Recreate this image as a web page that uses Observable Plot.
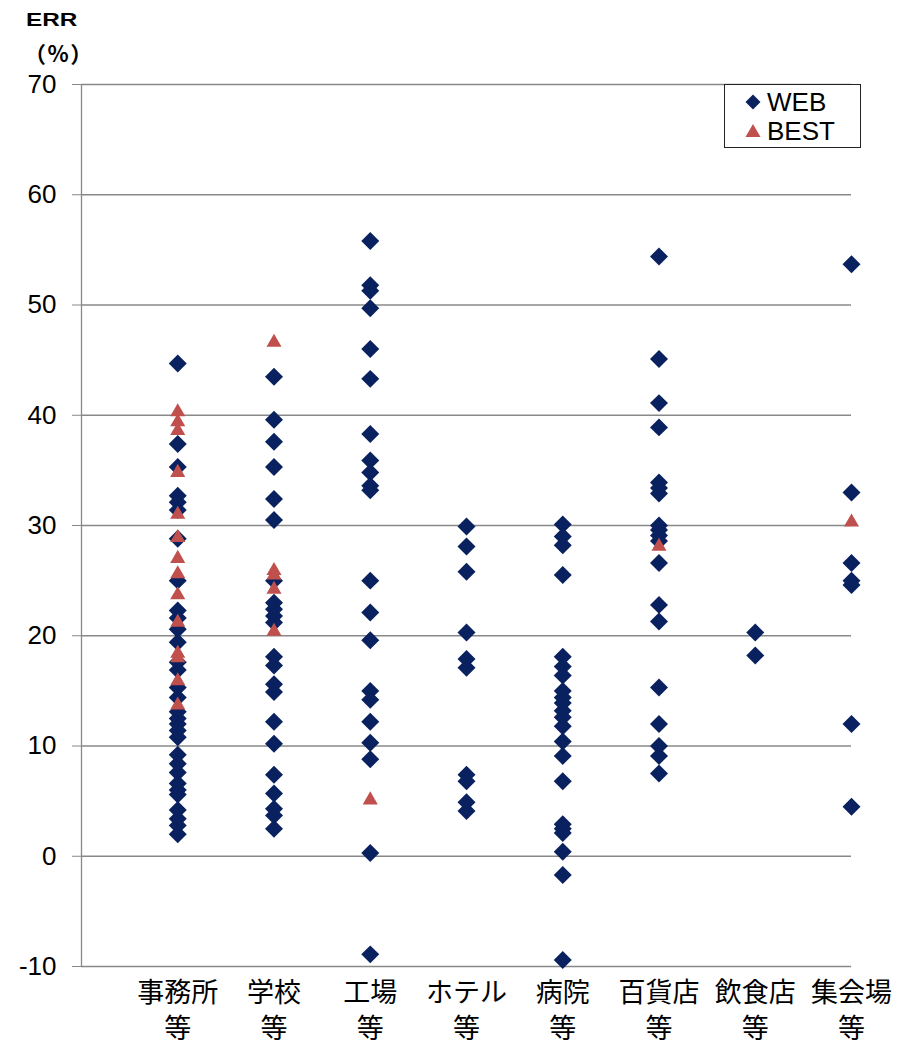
<!DOCTYPE html>
<html>
<head>
<meta charset="utf-8">
<script src="https://cdn.jsdelivr.net/npm/d3@7"></script>
<script src="https://cdn.jsdelivr.net/npm/@observablehq/plot@0.6"></script>
<style>
  body { margin: 0; background: #fff; }
  #wrap { position: relative; width: 910px; height: 1046px; font-family: "Liberation Sans", Arial, sans-serif; }
  #ylab1 { position: absolute; left: 26px; top: 10px; font: bold 18px "Liberation Sans", Arial, sans-serif; transform: scaleX(1.35); transform-origin: left top; }
  #ylab2 { position: absolute; left: 24px; top: 36px; line-height: 22px; letter-spacing: 1.5px; font: bold 22px "Noto Sans CJK JP", sans-serif; }
  #legend { position: absolute; left: 724px; top: 84px; width: 135px; height: 62px; border: 1.5px solid #222; background: #fff; }
  .li { position: absolute; left: 18px; height: 28px; display: flex; align-items: center; font: 26px "Liberation Sans", Arial, sans-serif; }
  .li svg { margin-right: 4px; }
</style>
</head>
<body>
<div id="wrap">
  <div id="chart"></div>
  <div id="ylab1">ERR</div>
  <div id="ylab2">（%）</div>
  <div id="legend">
    <div class="li" style="top:3px"><svg width="20" height="20" viewBox="-10 -10 20 20"><path d="M0,-7.5L7.5,0L0,7.5L-7.5,0Z" fill="#0A215F"/></svg>WEB</div>
    <div class="li" style="top:32px"><svg width="20" height="20" viewBox="-10 -10 20 20"><path d="M0,-7L7.5,6L-7.5,6Z" fill="#C0504D"/></svg>BEST</div>
  </div>
</div>
<script>
// Categories (x axis labels)
const categories = ["事務所\n等", "学校\n等", "工場\n等", "ホテル\n等", "病院\n等", "百貨店\n等", "飲食店\n等", "集会場\n等"];
// Y axis ticks
const yTicks = [-10, 0, 10, 20, 30, 40, 50, 60, 70];

// WEB series values per category
const webOffice = [44.7, 37.4, 35.3, 32.7, 32.1, 31.4, 28.8, 25.0, 22.3, 21.6, 20.6, 19.4, 17.6, 16.9, 15.3, 14.4, 13.1, 12.5, 12.0, 11.4, 10.8, 9.2, 8.4, 7.6, 6.6, 6.0, 5.6, 4.2, 3.4, 2.8, 2.0];
const webSchool = [43.5, 39.6, 37.6, 35.3, 32.4, 30.5, 25.0, 23.0, 22.4, 21.8, 21.2, 18.1, 17.3, 15.6, 14.9, 12.2, 10.2, 7.4, 5.7, 4.3, 3.7, 2.5];
const webFactory = [55.8, 51.8, 51.3, 49.7, 46.0, 43.3, 38.3, 35.9, 34.8, 33.6, 33.2, 25.0, 22.1, 19.6, 15.0, 14.2, 12.2, 10.3, 8.8, 0.3, -8.9];
const webHotel = [29.9, 28.1, 25.8, 20.3, 17.9, 17.1, 7.4, 6.8, 4.9, 4.1];
const webHospital = [30.1, 29.0, 28.2, 25.5, 18.1, 17.2, 16.4, 15.0, 14.4, 13.9, 13.2, 12.6, 11.8, 10.4, 9.1, 6.8, 2.9, 2.5, 2.1, 0.4, -1.7, -9.4];
const webDept = [54.4, 45.1, 41.1, 38.9, 33.9, 33.4, 32.9, 30.0, 29.6, 29.1, 28.6, 26.6, 22.8, 21.3, 15.3, 12.0, 10.0, 9.1, 7.5];
const webRestaurant = [20.3, 18.2];
const webHall = [53.7, 33.0, 26.6, 25.0, 24.6, 12.0, 4.5];

// BEST series values per category
const bestOffice = [40.3, 39.4, 38.6, 34.8, 31.0, 28.9, 27.0, 25.6, 23.7, 21.2, 18.4, 18.0, 15.9, 13.7];
const bestSchool = [46.6, 25.9, 25.5, 24.2, 20.4];
const bestFactory = [5.1];
const bestHotel = [];
const bestHospital = [];
const bestDept = [28.1];
const bestRestaurant = [];
const bestHall = [30.3];

const webSeries = [webOffice, webSchool, webFactory, webHotel, webHospital, webDept, webRestaurant, webHall];
const bestSeries = [bestOffice, bestSchool, bestFactory, bestHotel, bestHospital, bestDept, bestRestaurant, bestHall];

const toRows = (series) => series.flatMap((vals, i) => vals.map(v => ({pos: i + 1, value: v})));
const webRows = toRows(webSeries);
const bestRows = toRows(bestSeries);

const gray = "#888888";
const chart = Plot.plot({
  width: 910,
  height: 1046,
  marginLeft: 81,
  marginRight: 59,
  marginTop: 84,
  marginBottom: 80,
  style: {fontFamily: "'Liberation Sans', Arial, sans-serif", background: "#fff", color: "#000"},
  x: {type: "linear", domain: [0, categories.length]},
  y: {domain: [-10, 70]},
  marks: [
    Plot.ruleY(yTicks, {stroke: gray, strokeWidth: 1.3}),
    Plot.ruleX([0], {stroke: gray, strokeWidth: 1.3}),
    Plot.axisY({ticks: yTicks, tickSize: 9, tickPadding: 16, fontSize: 26, stroke: gray, fill: "#000", label: null, tickFormat: d => String(d)}),
    Plot.axisX({ticks: d3.range(1, categories.length + 1), tickFormat: i => categories[i - 1], tickSize: 0, tickPadding: 10, fontSize: 27, lineHeight: 1.33, fontFamily: "'Noto Sans CJK JP', sans-serif", fill: "#000", label: null}),
    Plot.dot(webRows, {x: "pos", y: "value", symbol: "diamond2", r: 8.1, fill: "#0A215F", stroke: "none"}),
    Plot.dot(bestRows, {x: "pos", y: "value", symbol: "triangle", r: 5.6, fill: "#C0504D", stroke: "none"})
  ]
});
document.getElementById("chart").appendChild(chart);
</script>
</body>
</html>
